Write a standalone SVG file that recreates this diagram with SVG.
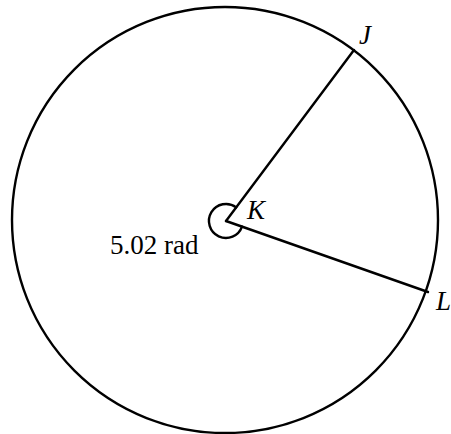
<svg xmlns="http://www.w3.org/2000/svg" width="451" height="434" viewBox="0 0 451 434">
<style>
.ln{fill:none;stroke:#000;stroke-width:2.4;stroke-linecap:round}
.lbl{font-family:"Liberation Serif","Times New Roman",serif;font-size:27px;fill:#000}
.it{font-style:italic}
</style>
<rect width="451" height="434" fill="#fff"/>
<g id="circle"><circle class="ln" cx="225" cy="220" r="213"/></g>
<g id="connectors">
<line class="ln" x1="226" y1="221" x2="354" y2="50"/>
<line class="ln" x1="226" y1="221" x2="428" y2="292"/>
<path class="ln" d="M236.2 207.4 A17 17 0 1 0 242 226.6"/>
</g>
<g id="J"><text class="lbl it" x="359" y="44">J</text></g>
<g id="K"><text class="lbl it" x="247" y="219">K</text></g>
<g id="L"><text class="lbl it" x="436" y="310">L</text></g>
<g id="angle"><text class="lbl" x="110" y="254">5.02 rad</text></g>
</svg>
